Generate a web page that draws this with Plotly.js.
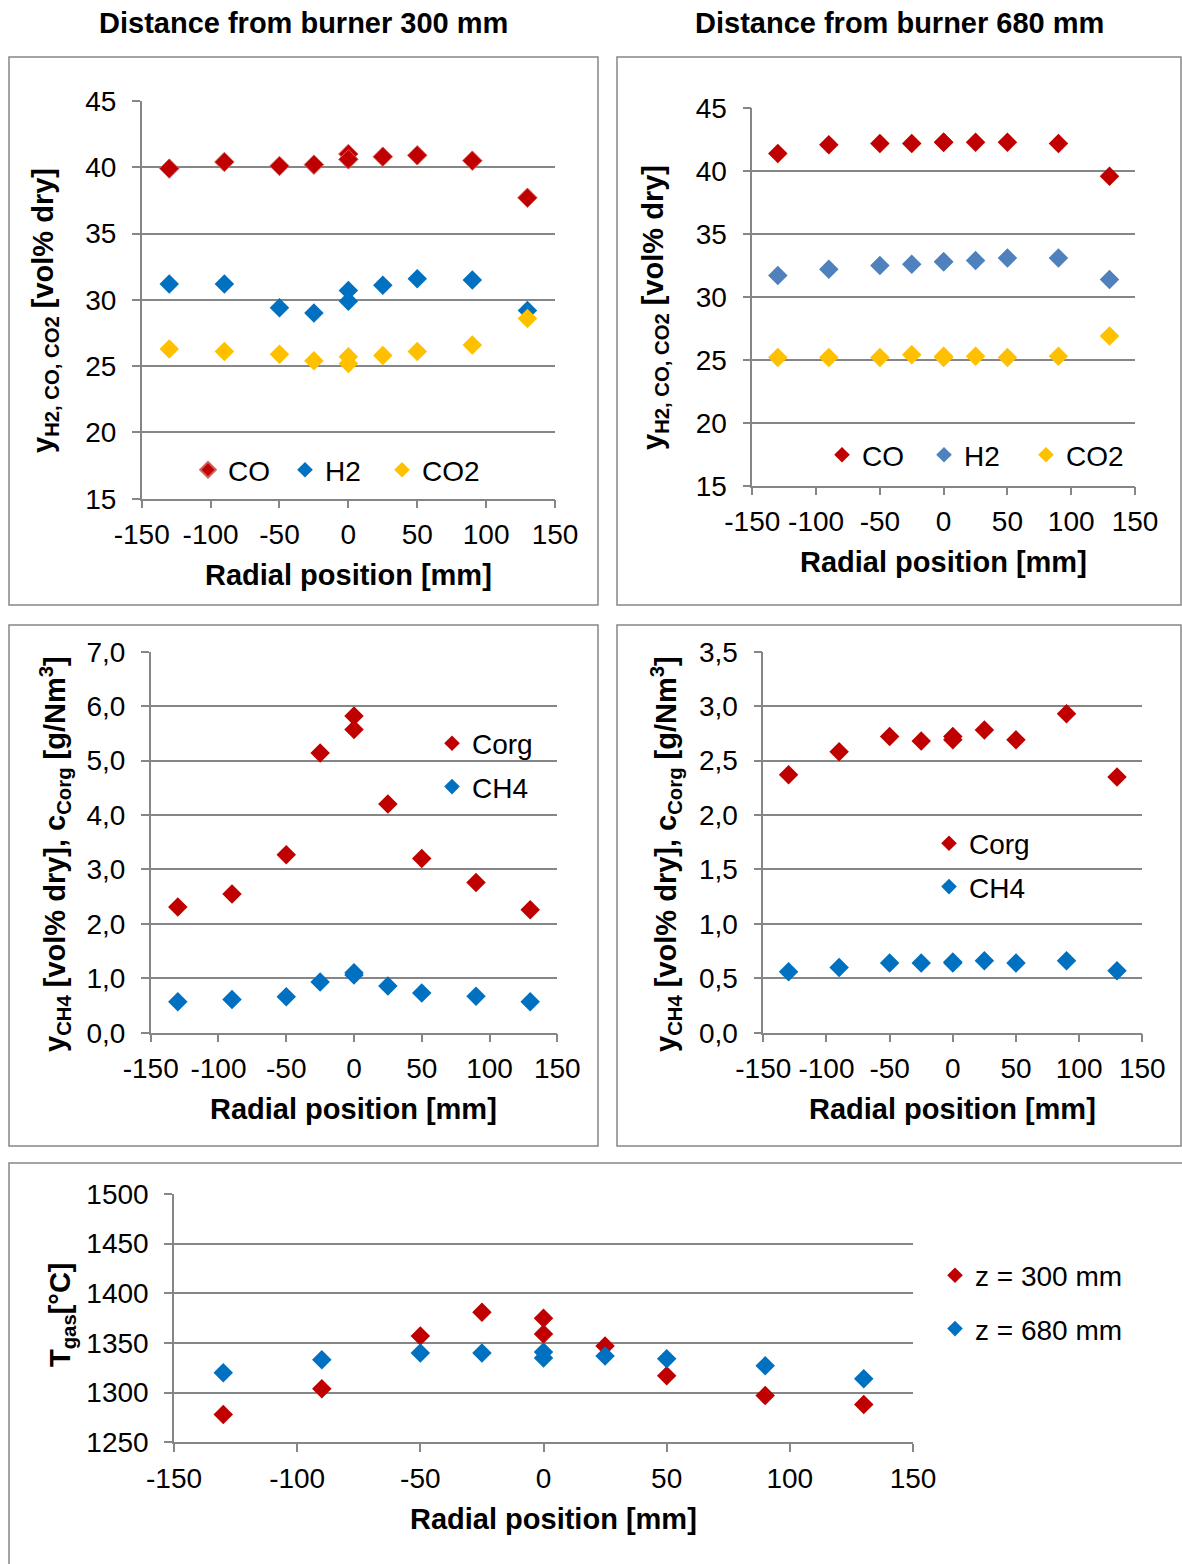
<!DOCTYPE html>
<html><head><meta charset="utf-8">
<script src="https://cdn.plot.ly/plotly-3.0.1.min.js"></script>
<style>html,body{margin:0;padding:0;background:#fff}#chart{width:1182px;height:1564px}</style>
</head><body><div id="chart"></div>
<script>
// ---------- DATA ----------
const radial = [-130, -90, -50, -25, 0, 0, 25, 50, 90, 130];

// Distance from burner 300 mm
const co300  = [39.9, 40.4, 40.1, 40.2, 41.0, 40.6, 40.8, 40.9, 40.5, 37.7];
const h2_300 = [31.2, 31.2, 29.4, 29.0, 30.7, 29.9, 31.1, 31.6, 31.5, 29.2];
const co2_300 = [26.3, 26.1, 25.9, 25.4, 25.7, 25.2, 25.8, 26.1, 26.6, 28.6];
const corg300 = [2.31, 2.55, 3.27, 5.14, 5.82, 5.57, 4.20, 3.20, 2.76, 2.26];
const ch4_300 = [0.57, 0.61, 0.66, 0.93, 1.10, 1.06, 0.86, 0.73, 0.67, 0.57];

// Distance from burner 680 mm
const co680  = [41.4, 42.1, 42.2, 42.2, 42.3, 42.3, 42.3, 42.3, 42.2, 39.6];
const h2_680 = [31.7, 32.2, 32.5, 32.6, 32.8, 32.8, 32.9, 33.1, 33.1, 31.4];
const co2_680 = [25.2, 25.2, 25.2, 25.4, 25.3, 25.2, 25.3, 25.2, 25.3, 26.9];
const corg680 = [2.37, 2.58, 2.72, 2.68, 2.72, 2.69, 2.78, 2.69, 2.93, 2.35];
const ch4_680 = [0.56, 0.60, 0.64, 0.64, 0.64, 0.65, 0.66, 0.64, 0.66, 0.57];

// Gas temperature
const tgas300 = [1278, 1304, 1357, 1381, 1375, 1359, 1347, 1317, 1297, 1288];
const tgas680 = [1320, 1333, 1340, 1340, 1341, 1335, 1337, 1334, 1327, 1314];

// Tick labels
const xTickVals = [-150, -100, -50, 0, 50, 100, 150];
const xTickText = ['-150', '-100', '-50', '0', '50', '100', '150'];
const gasTickVals = [15, 20, 25, 30, 35, 40, 45];
const gasTickText = ['15', '20', '25', '30', '35', '40', '45'];
const orgTickVals300 = [0, 1, 2, 3, 4, 5, 6, 7];
const orgTickText300 = ['0,0', '1,0', '2,0', '3,0', '4,0', '5,0', '6,0', '7,0'];
const orgTickVals680 = [0, 0.5, 1, 1.5, 2, 2.5, 3, 3.5];
const orgTickText680 = ['0,0', '0,5', '1,0', '1,5', '2,0', '2,5', '3,0', '3,5'];
const tTickVals = [1250, 1300, 1350, 1400, 1450, 1500];
const tTickText = ['1250', '1300', '1350', '1400', '1450', '1500'];

// ---------- STYLE / LAYOUT ----------
const W = 1182, H = 1564;
const px = x => x / W;
const py = y => 1 - y / H;
const FONT = 'Liberation Sans, Arial, sans-serif';
const GRID = '#868686';
const RED = '#C00000', BLUE = '#0070C0', LBLUE = '#4F81BD', YEL = '#FFC000';
const MS = 15;
const TICK = 28, LEGF = 28, TITLEF = 29;

function mk(x, y, name, color, xa, ya, leg, grp, line) {
  const t = {
    type: 'scatter', mode: 'markers', x: x, y: y, name: name,
    xaxis: xa, yaxis: ya, legend: leg,
    marker: {symbol: 'diamond', size: MS, color: color,
             line: line || {width: 0}},
    hoverinfo: 'x+y'
  };
  if (grp) t.legendgroup = grp;
  return t;
}

const traces = [
  mk(radial, co300, 'CO', RED, 'x', 'y', 'legend', null, {width: 1, color: '#D0605C'}),
  mk(radial, h2_300, 'H2', BLUE, 'x', 'y', 'legend'),
  mk(radial, co2_300, 'CO2', YEL, 'x', 'y', 'legend'),
  mk(radial, co680, 'CO', RED, 'x2', 'y2', 'legend2'),
  mk(radial, h2_680, 'H2', LBLUE, 'x2', 'y2', 'legend2'),
  mk(radial, co2_680, 'CO2', YEL, 'x2', 'y2', 'legend2'),
  mk(radial, corg300, 'Corg', RED, 'x3', 'y3', 'legend3', 'c1'),
  mk(radial, ch4_300, 'CH4', BLUE, 'x3', 'y3', 'legend3', 'c2'),
  mk(radial, corg680, 'Corg', RED, 'x4', 'y4', 'legend4', 'd1'),
  mk(radial, ch4_680, 'CH4', BLUE, 'x4', 'y4', 'legend4', 'd2'),
  mk(radial, tgas300, 'z = 300 mm', RED, 'x5', 'y5', 'legend5', 'e1'),
  mk(radial, tgas680, 'z = 680 mm', BLUE, 'x5', 'y5', 'legend5', 'e2')
];

function xax(l, r, anchor) {
  return {
    domain: [px(l), px(r)], anchor: anchor, range: [-150, 150],
    tickmode: 'array', tickvals: xTickVals, ticktext: xTickText,
    showgrid: false, zeroline: false, showline: true, linecolor: GRID, linewidth: 1.5,
    ticks: 'outside', ticklen: 8, tickwidth: 1.5, tickcolor: GRID,
    tickfont: {family: FONT, size: TICK, color: '#000'}, ticklabelstandoff: 2,
    fixedrange: true
  };
}
function yax(top, bot, anchor, range, vals, text) {
  return {
    domain: [py(bot), py(top)], anchor: anchor, range: range,
    tickmode: 'array', tickvals: vals, ticktext: text,
    showgrid: true, gridcolor: GRID, gridwidth: 1.5,
    zeroline: false, showline: true, linecolor: GRID, linewidth: 1.5,
    ticks: 'outside', ticklen: 8, tickwidth: 1.5, tickcolor: GRID,
    tickfont: {family: FONT, size: TICK, color: '#000'}, ticklabelstandoff: 10,
    fixedrange: true
  };
}

function ann(x, y, text, size, angle) {
  return {xref: 'paper', yref: 'paper', x: px(x), y: py(y), text: text,
          showarrow: false, xanchor: 'center', yanchor: 'middle',
          textangle: angle || 0,
          font: {family: FONT, size: size, color: '#000', weight: 'bold'}};
}
function frame(x0, y0, x1, y1) {
  return {type: 'rect', xref: 'paper', yref: 'paper',
          x0: px(x0), x1: px(x1), y0: py(y1), y1: py(y0),
          line: {color: GRID, width: 1.5}, fillcolor: 'rgba(0,0,0,0)', layer: 'below'};
}
function leg(x, y, horiz, extra) {
  return Object.assign({
    x: px(x), y: py(y), xanchor: 'left', yanchor: 'middle',
    orientation: horiz ? 'h' : 'v', bgcolor: 'rgba(0,0,0,0)', borderwidth: 0,
    font: {family: FONT, size: LEGF, color: '#000'}, itemsizing: 'constant',
    itemclick: false, itemdoubleclick: false
  }, extra || {});
}

const layout = {
  width: W, height: H, margin: {l: 0, r: 0, t: 0, b: 0},
  paper_bgcolor: '#fff', plot_bgcolor: 'rgba(0,0,0,0)',
  font: {family: FONT, color: '#000'},
  hovermode: 'closest',
  xaxis: xax(141.7, 555, 'y'),
  yaxis: yax(101, 498.7, 'x', [15, 45], gasTickVals, gasTickText),
  xaxis2: xax(752.3, 1135, 'y2'),
  yaxis2: yax(108.3, 485.7, 'x2', [15, 45], gasTickVals, gasTickText),
  xaxis3: xax(150.7, 557.3, 'y3'),
  yaxis3: yax(651.7, 1032.7, 'x3', [0, 7], orgTickVals300, orgTickText300),
  xaxis4: xax(763.3, 1142.3, 'y4'),
  yaxis4: yax(651.7, 1032.7, 'x4', [0, 3.5], orgTickVals680, orgTickText680),
  xaxis5: xax(174, 913, 'y5'),
  yaxis5: yax(1194, 1442.3, 'x5', [1250, 1500], tTickVals, tTickText),
  legend: leg(188, 470, true, {entrywidth: 52, entrywidthmode: 'pixels'}),
  legend2: leg(822, 455, true, {entrywidth: 57, entrywidthmode: 'pixels'}),
  legend3: leg(432, 765, false, {tracegroupgap: 4}),
  legend4: leg(929, 865, false, {tracegroupgap: 4}),
  legend5: leg(935, 1302, false, {tracegroupgap: 14}),
  shapes: [
    frame(9, 57, 598, 605),
    frame(617, 57, 1181, 605),
    frame(9, 625, 598, 1146),
    frame(617, 625, 1181, 1146),
    frame(9, 1163, 1190, 1570)
  ],
  annotations: [
    ann(303, 23, 'Distance from burner 300 mm', TITLEF),
    ann(899, 23, 'Distance from burner 680 mm', TITLEF),
    ann(348, 575, 'Radial position [mm]', TITLEF),
    ann(943, 562, 'Radial position [mm]', TITLEF),
    ann(353, 1109, 'Radial position [mm]', TITLEF),
    ann(952, 1109, 'Radial position [mm]', TITLEF),
    ann(553, 1519, 'Radial position [mm]', TITLEF),
    ann(45, 311, 'y<sub>H2, CO, CO2</sub> [vol% dry]', TITLEF, -90),
    ann(655, 308, 'y<sub>H2, CO, CO2</sub> [vol% dry]', TITLEF, -90),
    ann(55, 854, 'y<sub>CH4</sub> [vol% dry], c<sub>Corg</sub> [g/Nm<sup>3</sup>]', TITLEF, -90),
    ann(666, 854, 'y<sub>CH4</sub> [vol% dry], c<sub>Corg</sub> [g/Nm<sup>3</sup>]', TITLEF, -90),
    ann(62, 1315, 'T<sub>gas</sub>[°C]', TITLEF, -90)
  ]
};

Plotly.newPlot('chart', traces, layout, {displayModeBar: false, responsive: false});
</script>
</body></html>
